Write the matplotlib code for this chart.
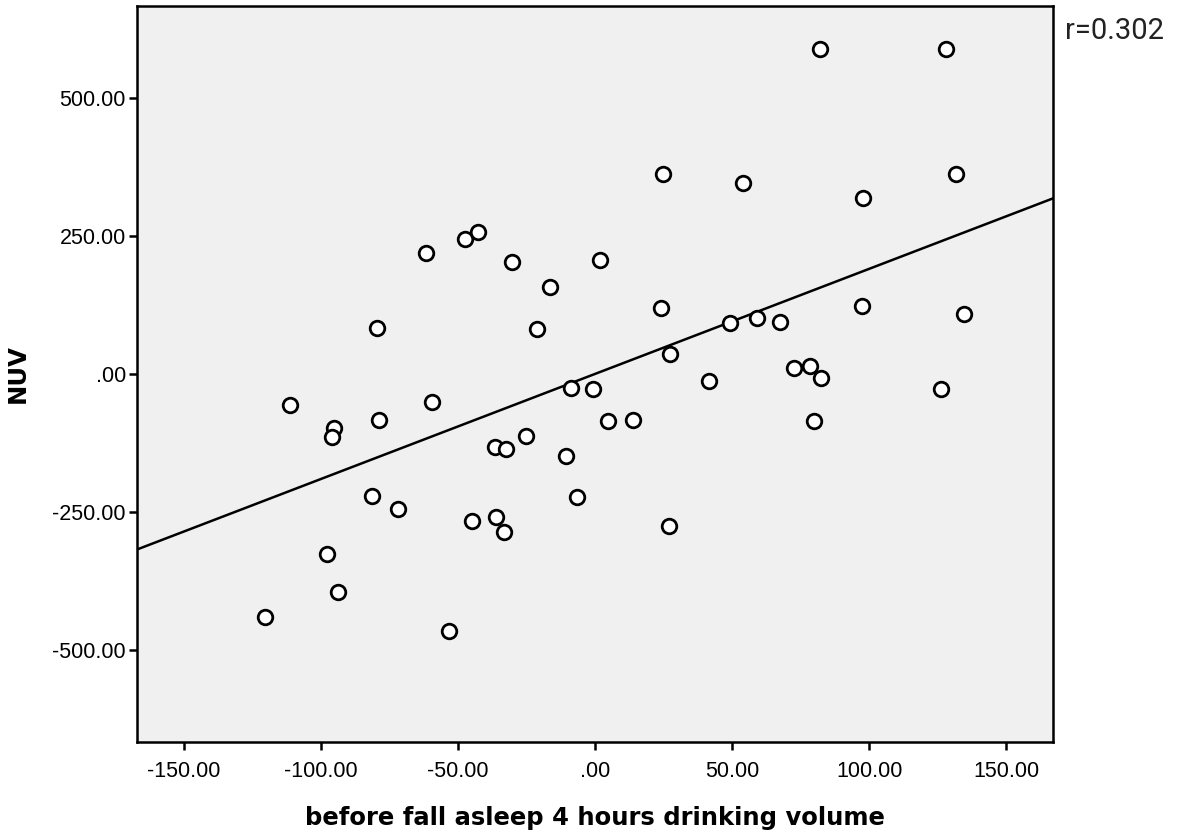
import numpy as np
import matplotlib
matplotlib.use("Agg")
import matplotlib.pyplot as plt

# Data
drinking_volume = [
    -61.7, -79.6, -47.5, -42.7, -30.3, -16.4, -21.0, 1.8, 24.7, 53.8,
    24.1, 27.3, 49.1, 59.0, 41.6, 81.9, 128.0, 131.6, 97.9, 97.5,
    134.5, 67.3, 72.7, 78.5, 82.4, 126.2, 79.8, -111.3, -95.0, -96.0,
    -78.7, -59.5, -81.2, -71.7, -97.7, -93.6, -120.5, -53.2, -8.7, -0.8,
    4.6, 13.9, -25.3, -36.6, -32.4, -10.7, -6.4, -45.0, -36.2, -33.0,
    27.0,
]
nuv = [
    220, 83, 244, 257, 203, 157, 81, 207, 363, 346,
    120, 36, 92, 101, -12, 589, 589, 363, 319, 124,
    109, 95, 11, 14.5, -6.6, -28, -85, -57, -98, -115,
    -84, -51, -222, -245, -326, -395, -440, -466, -25, -27,
    -86, -84, -112, -133, -136, -149, -223, -266, -260, -287,
    -275,
]
x_ticks = [-150, -100, -50, 0, 50, 100, 150]
x_tick_labels = ["-150.00", "-100.00", "-50.00", ".00", "50.00", "100.00", "150.00"]
y_ticks = [-500, -250, 0, 250, 500]
y_tick_labels = ["-500.00", "-250.00", ".00", "250.00", "500.00"]
r_label = "r=0.302"

W, H = 1181, 838
fig = plt.figure(figsize=(W / 100, H / 100), dpi=100)
fig.patch.set_facecolor("white")
ax = fig.add_axes([137 / W, 1 - 742 / H, (1053 - 137) / W, (742 - 6) / H])
ax.set_facecolor("#f0f0f0")

xlim = (-167, 167)
ylim = (-667, 667)
ax.set_xlim(*xlim)
ax.set_ylim(*ylim)

x = np.array(drinking_volume)
y = np.array(nuv)
slope, intercept = np.polyfit(x, y, 1)
xl = np.array(xlim)
ax.plot(xl, slope * xl + intercept, color="black", lw=1.8, zorder=2)

ax.scatter(x, y, s=110, facecolors="white", edgecolors="black",
           linewidths=2.0, zorder=3)

for sp in ax.spines.values():
    sp.set_linewidth(1.8)
    sp.set_color("black")

tick_font = dict(family="Liberation Sans", size=15.5)
ax.set_xticks(x_ticks)
ax.set_xticklabels(x_tick_labels, **tick_font)
ax.set_yticks(y_ticks)
ax.set_yticklabels(y_tick_labels, **tick_font)
ax.tick_params(axis="both", direction="out", length=6, width=1.8, color="black")
ax.tick_params(axis="x", pad=8)
ax.tick_params(axis="y", pad=2)

ax.set_xlabel("before fall asleep 4 hours drinking volume",
              fontsize=17.5, fontweight="bold", family="DejaVu Sans", labelpad=17)
ax.set_ylabel("NUV", fontsize=17.5, fontweight="bold", family="DejaVu Sans",
              labelpad=16)

fig.text(1065 / W, 1 - 17 / H, r_label, fontsize=21, family="Roboto",
         ha="left", va="top", color="#222222")

fig.savefig("out.png", dpi=100)
